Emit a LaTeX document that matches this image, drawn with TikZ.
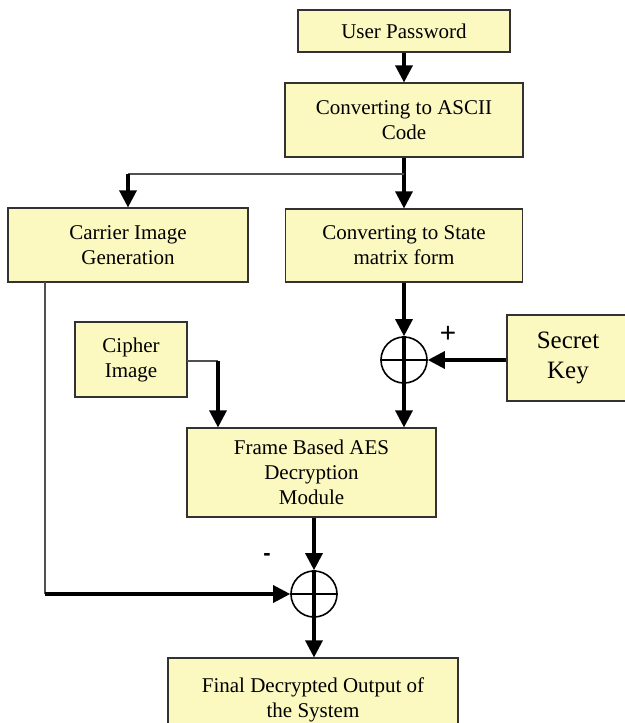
\documentclass[tikz,border=0pt]{standalone}
\usepackage{fontspec}
\setmainfont{Liberation Serif}
\setsansfont{Liberation Sans}
\usetikzlibrary{arrows.meta}
\definecolor{boxfill}{RGB}{251,248,192}
\definecolor{boxline}{RGB}{50,50,50}
\definecolor{thinline}{RGB}{80,80,80}
\tikzset{
  blk/.style={draw=boxline, line width=0.55pt, fill=boxfill, inner sep=0pt, align=center,
    font=\fontsize{10.5}{12.5}\selectfont},
  arr/.style={line width=1.6pt, -{Triangle[length=8.5pt,width=8.5pt]}},
  thk/.style={line width=1.6pt},
  thn/.style={line width=0.7pt, draw=thinline},
  xorc/.style={circle, draw=black, line width=0.8pt, minimum size=23pt, inner sep=0pt},
  sgn/.style={font=\sffamily\fontsize{14}{15}\selectfont}
}
\begin{document}
\begin{tikzpicture}[x=0.5pt,y=-0.5pt]
\useasboundingbox (0,0) rectangle (625,723);
\clip (0,0) rectangle (625,723);
% boxes
\node[blk, minimum width=106pt, minimum height=21pt] (pw) at (404,31) {User Password};
\node[blk, minimum width=119pt, minimum height=37pt] (ascii) at (404,120) {Converting to ASCII\\Code};
\node[blk, minimum width=120pt, minimum height=37pt] (carrier) at (128,245) {Carrier Image\\Generation};
\node[blk, minimum width=118.5pt, minimum height=36.5pt] (state) at (404,245.5) {Converting to State\\matrix form};
\node[blk, minimum width=56pt, minimum height=37.5pt] (cipher) at (131,359.5) {Cipher\\Image};
\node[blk, minimum width=61pt, minimum height=43pt, font=\fontsize{12.5}{15}\selectfont] (key) at (568,358) {Secret\\Key};
\node[blk, minimum width=124.5pt, minimum height=44.5pt] (aes) at (311.5,472.5) {Frame Based AES\\Decryption\\Module};
\node[blk, minimum width=145pt, minimum height=42pt] (final) at (313,700) {Final Decrypted Output of\\the System};
% xor circles
\node[xorc] (x1) at (404,360) {};
\node[xorc] (x2) at (314,594) {};
\draw[line width=0.8pt] (x1.west) -- (x1.east);
\draw[thk] (x1.north) -- (x1.south);
\draw[line width=0.8pt] (x2.west) -- (x2.east);
\draw[thk] (x2.north) -- (x2.south);
% coordinates
\coordinate (split) at (404,174);
\coordinate (cbend) at (128,174);
\coordinate (ctop) at (45,282);
\coordinate (cbot) at (45,594);
\coordinate (ciout) at (187,361);
\coordinate (cibend) at (218,361);
% connectors
\draw[arr] (pw.south) -- (ascii.north);
\draw[arr] (ascii.south) -- (state.north);
\draw[thn] (split) -- (cbend);
\draw[arr] (cbend) -- (carrier.north);
\draw[arr] (state.south) -- (x1.north);
\draw[arr] (key.west |- x1) -- (x1.east);
\draw[arr] (x1.south) -- (x1.south |- aes.north);
\draw[thn] (ciout) -- (cibend);
\draw[arr] (cibend) -- (cibend |- aes.north);
\draw[arr] (x2 |- aes.south) -- (x2.north);
\draw[thn] (ctop) -- (cbot);
\draw[arr] (cbot) -- (x2.west);
\draw[arr] (x2.south) -- (x2.south |- final.north);
% signs
\node[sgn] (plus) at (448,334) {+};
\node[sgn, font=\sffamily\bfseries\fontsize{11}{12}\selectfont] (minus) at (267,557) {-};
\end{tikzpicture}
\end{document}
